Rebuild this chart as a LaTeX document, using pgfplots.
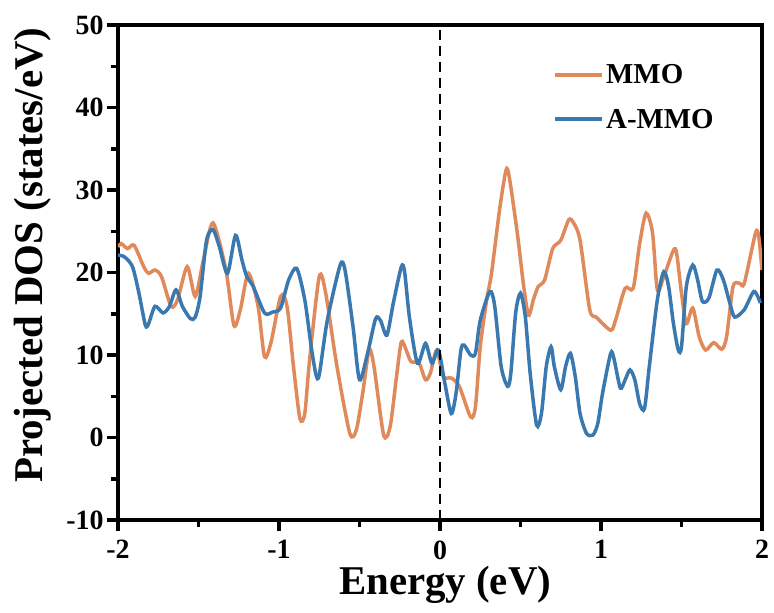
\documentclass[border=0pt]{standalone}
\usepackage{pgfplots}
\pgfplotsset{compat=1.18}
\usepackage{fontspec}
\setmainfont{Liberation Serif}
\definecolor{mmo}{HTML}{E0895A}
\definecolor{ammo}{HTML}{3A78B0}
\pgfplotstableread{
x y
-2.00 23.1
-1.98 23.5
-1.94 22.9
-1.90 23.3
-1.84 20.7
-1.81 19.9
-1.77 20.3
-1.73 19.5
-1.67 15.9
-1.63 16.7
-1.57 20.7
-1.52 17.1
-1.47 21.5
-1.41 26.0
-1.33 20.3
-1.28 13.6
-1.24 15.5
-1.19 19.9
-1.13 15.9
-1.09 9.8
-1.05 11.5
-0.99 17.1
-0.95 15.9
-0.91 8.6
-0.87 2.3
-0.84 2.9
-0.81 9.4
-0.75 19.5
-0.71 17.5
-0.64 8.6
-0.56 0.5
-0.52 0.9
-0.48 5.4
-0.44 10.6
-0.41 8.6
-0.35 0.3
-0.31 1.3
-0.27 7.4
-0.24 11.6
-0.21 10.6
-0.18 9.2
-0.13 9.0
-0.09 7.0
-0.06 7.8
-0.02 10.6
0.02 7.4
0.07 7.2
0.12 6.2
0.19 2.5
0.22 3.7
0.25 11.0
0.29 16.7
0.32 19.9
0.37 27.6
0.41 32.4
0.43 31.6
0.48 24.8
0.52 18.3
0.55 14.8
0.58 16.7
0.61 18.3
0.65 19.1
0.70 22.9
0.75 23.9
0.80 26.4
0.83 26.0
0.87 23.9
0.93 15.5
0.97 14.6
1.06 13.0
1.09 14.2
1.15 18.1
1.20 18.1
1.24 23.5
1.28 27.2
1.32 24.8
1.35 17.9
1.39 19.5
1.45 22.7
1.47 22.3
1.50 17.5
1.53 13.8
1.57 15.7
1.61 12.2
1.65 10.6
1.70 11.5
1.75 10.7
1.78 12.2
1.82 18.3
1.86 18.7
1.89 18.7
1.96 24.8
1.98 24.3
2.00 20.3
}\mmodata
\pgfplotstableread{
x y
-2.00 22.1
-1.96 21.9
-1.91 20.7
-1.87 17.5
-1.83 13.6
-1.81 13.8
-1.77 15.9
-1.72 15.1
-1.68 15.9
-1.64 17.9
-1.60 15.9
-1.55 14.4
-1.52 14.6
-1.49 17.1
-1.45 23.9
-1.41 25.2
-1.37 23.1
-1.32 19.9
-1.27 24.5
-1.23 21.5
-1.20 19.5
-1.16 18.3
-1.09 15.1
-1.04 15.2
-0.99 15.7
-0.94 19.1
-0.89 20.5
-0.84 16.7
-0.80 11.0
-0.77 7.6
-0.75 7.6
-0.70 14.2
-0.62 20.9
-0.59 20.3
-0.54 13.4
-0.50 7.0
-0.45 10.2
-0.40 14.4
-0.37 14.2
-0.33 12.4
-0.29 16.3
-0.24 20.7
-0.22 20.1
-0.19 14.6
-0.14 9.0
-0.09 11.4
-0.05 9.0
-0.01 10.6
0.03 6.6
0.07 2.9
0.10 5.4
0.13 10.6
0.15 11.2
0.19 10.0
0.22 10.2
0.25 14.2
0.31 17.7
0.34 15.9
0.38 8.6
0.42 6.2
0.44 7.8
0.47 15.1
0.50 17.5
0.53 14.6
0.56 7.8
0.60 1.5
0.63 2.9
0.66 8.6
0.69 11.0
0.71 8.6
0.75 5.8
0.78 8.6
0.81 10.2
0.84 7.4
0.87 2.9
0.91 0.5
0.95 0.3
0.98 1.7
1.01 5.4
1.06 10.2
1.08 9.6
1.12 6.0
1.15 7.0
1.18 8.2
1.21 7.0
1.24 4.1
1.27 3.5
1.30 8.6
1.35 16.7
1.39 20.1
1.42 18.3
1.45 13.8
1.48 10.6
1.50 11.0
1.53 18.3
1.57 20.9
1.60 19.1
1.63 16.5
1.67 16.9
1.72 20.3
1.76 19.1
1.80 16.3
1.83 14.6
1.89 15.5
1.95 17.7
1.99 16.3
}\ammodata
\begin{document}
\begin{tikzpicture}
\begin{axis}[
  name=main,
  scale only axis, width=644bp, height=495bp,
  at={(0,0)}, anchor=south west,
  xmin=-2, xmax=2, ymin=-10, ymax=50,
  xtick={-2,-1,0,1,2}, xticklabels={-2,-1,0,1,2},
  ytick={-10,0,10,20,30,40,50}, yticklabels={-10,0,10,20,30,40,50},
  minor x tick num=1, minor y tick num=1,
  tick align=outside, xtick pos=bottom, ytick pos=left,
  major tick length=11bp, minor tick length=7bp,
  axis line style={line width=3.5bp},
  tick style={line width=3.5bp, black},
  ticklabel style={font=\fontsize{28}{28}\selectfont\bfseries},
  xticklabel style={yshift=-6bp},
  xlabel={Energy (eV)}, ylabel={Projected DOS (states/eV)},
  label style={font=\fontsize{41}{41}\selectfont\bfseries},
  xlabel style={at={(axis description cs:0.508,-0.1515)}, anchor=base},
  ylabel style={at={(axis description cs:-0.1165,0.535)}, anchor=base},
  legend style={draw=none, fill=none, at={(axis description cs:0.6755,0.925)}, anchor=north west,
    font=\fontsize{29}{29}\selectfont\bfseries, inner sep=0pt, row sep=20bp},
  legend cell align=left,
  legend image code/.code={\draw[#1, line width=4bp] (0bp,0bp) -- (47bp,0bp);},
]
\addplot[mmo, line width=3.5bp, smooth, tension=0.45] table[x=x,y=y] {\mmodata};
\addlegendentry{MMO}
\addplot[ammo, line width=3.5bp, smooth, tension=0.45] table[x=x,y=y] {\ammodata};
\addlegendentry{A-MMO}
\addplot[black, line width=2.5bp, dash pattern=on 10bp off 6bp, forget plot] coordinates {(0,-10) (0,50)};
\end{axis}
\pgfresetboundingbox
\useasboundingbox (-118bp,-93bp) rectangle (656bp,520bp);
\end{tikzpicture}
\end{document}
